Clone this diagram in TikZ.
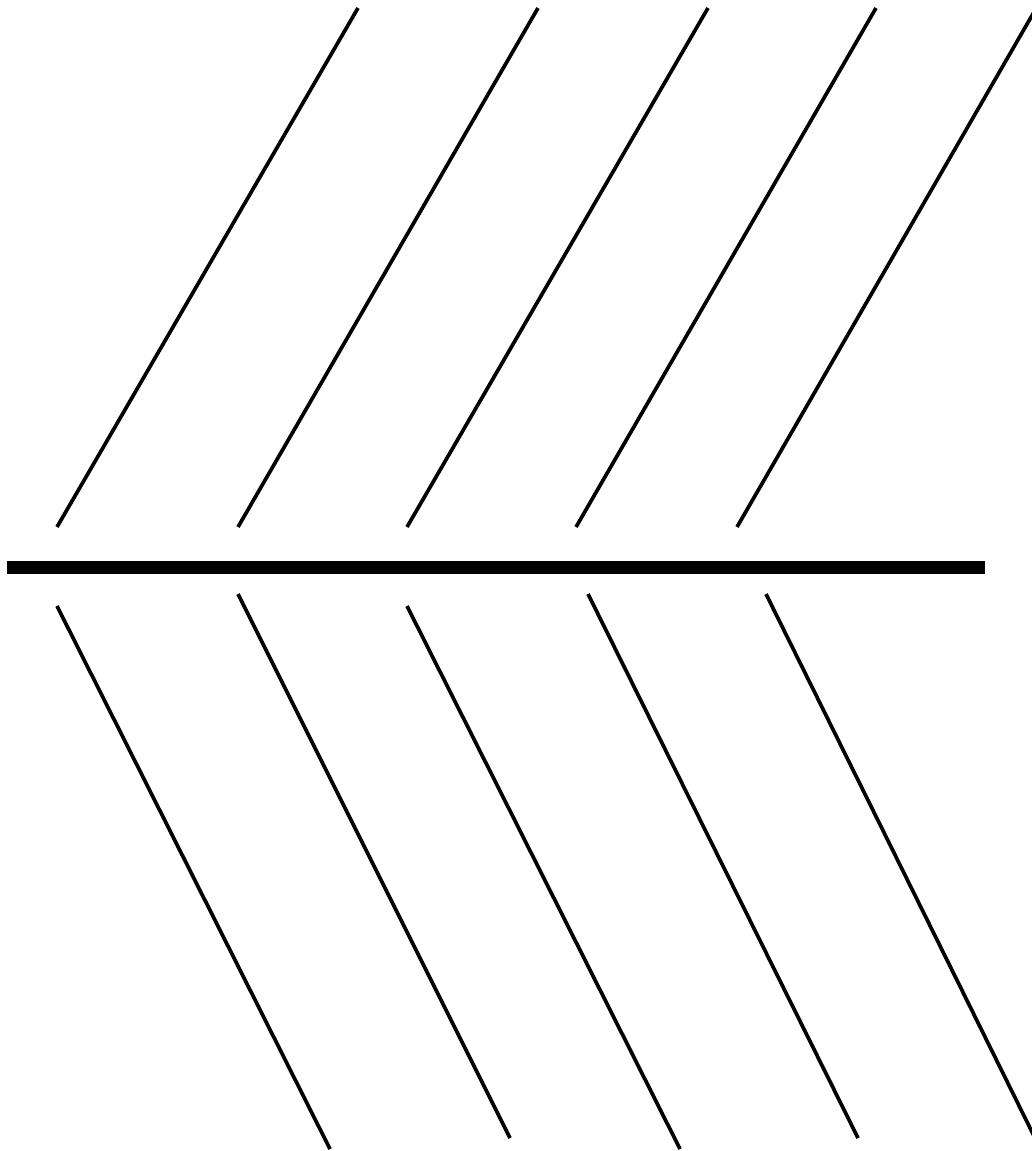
\documentclass[tikz,border=0pt]{standalone}
\usetikzlibrary{calc}

\begin{document}
\begin{tikzpicture}[
  x=0.02cm, y=-0.02cm,
  spine/.style={line width=7.4pt, black},
  bone/.style={line width=2.1pt, black}
]
  \useasboundingbox (0,0) rectangle (1031,1151);

  % main spine
  \coordinate (tail) at (7,567);
  \coordinate (head) at (985,567);
  \draw[spine] (tail) -- (head);

  % upper bones
  \foreach \i/\xa/\xb/\yb in {1/57/358/8, 2/238/538/8, 3/407/708/8, 4/576/876/8, 5/737/1034/12} {
    \coordinate (up\i a) at (\xa,527);
    \coordinate (up\i b) at (\xb,\yb);
    \draw[bone] (up\i a) -- (up\i b);
  }

  % lower bones
  \foreach \i/\xa/\ya/\xb/\yb in {1/57/606/330/1149, 2/238/594/510/1138, 3/407/606/680/1149, 4/588/594/858/1138, 5/766/594/1034/1136} {
    \coordinate (lo\i a) at (\xa,\ya);
    \coordinate (lo\i b) at (\xb,\yb);
    \draw[bone] (lo\i a) -- (lo\i b);
  }
\end{tikzpicture}
\end{document}
